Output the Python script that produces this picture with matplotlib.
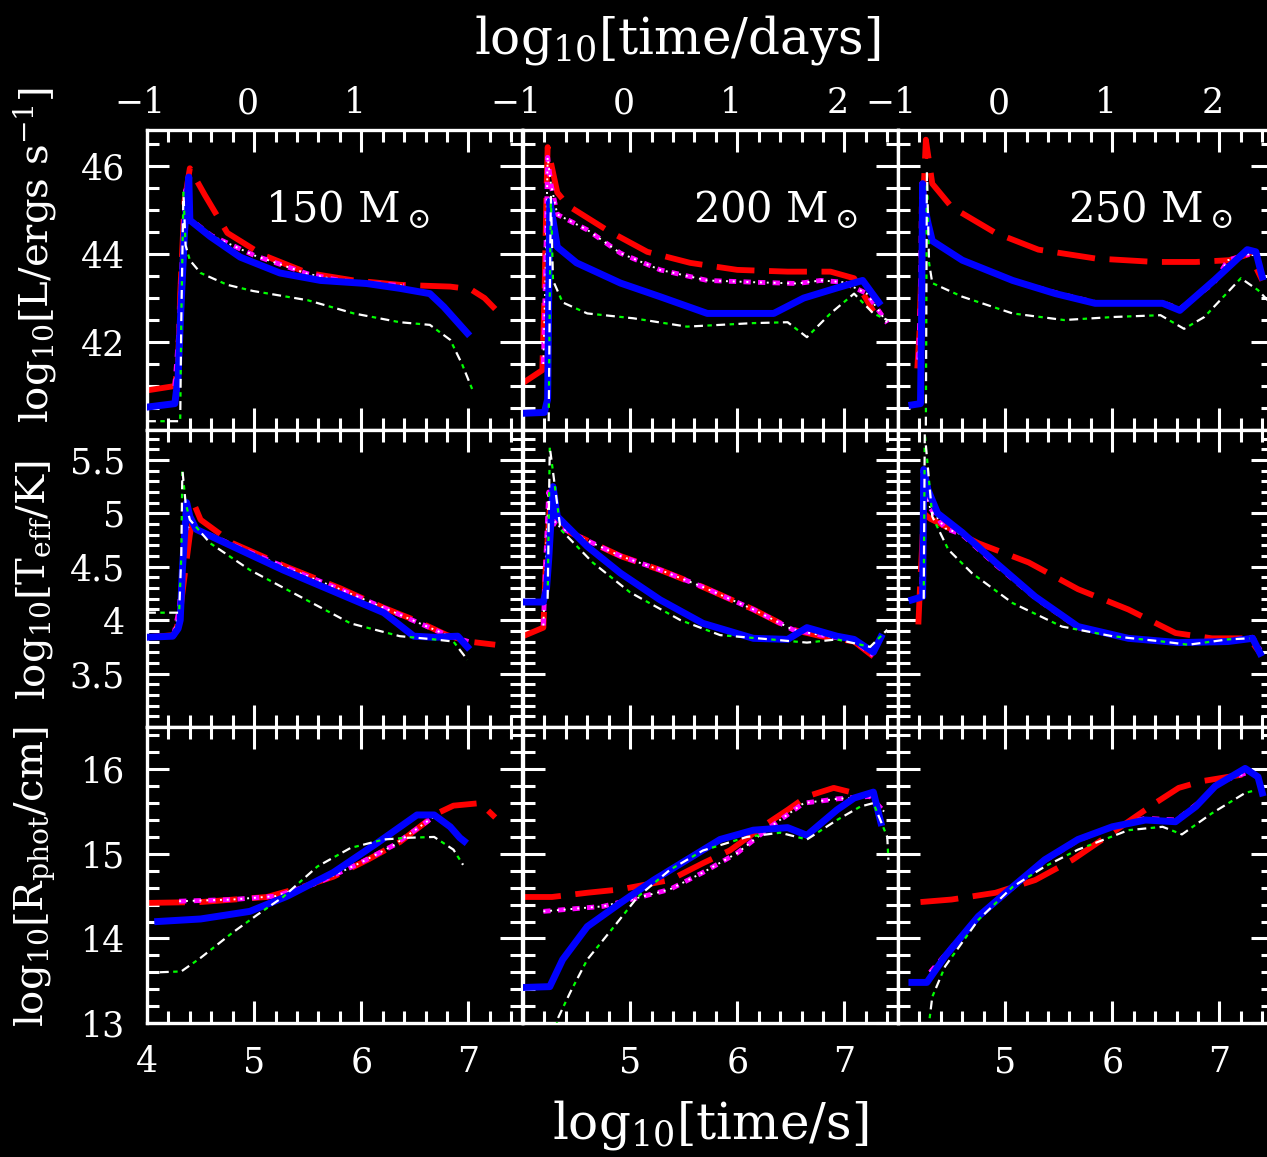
import matplotlib.pyplot as plt
import numpy as np
from matplotlib.ticker import MultipleLocator, FixedLocator

plt.rcParams['font.family'] = 'DejaVu Serif'
plt.rcParams['mathtext.fontset'] = 'dejavuserif'

W, H = 1267, 1157
LOG_DAY = np.log10(86400.)

masses = ['150', '200', '250']

# ---- 150 Msun -------------------------------------------------------------
# luminosity
t150L_red = [4.0, 4.26, 4.29, 4.31, 4.35, 4.40, 4.54, 4.75, 5.08, 5.50, 5.93, 6.36, 6.83, 7.02, 7.15, 7.25]
y150L_red = [40.9, 41.0, 41.5, 43.1, 45.2, 45.95, 45.34, 44.48, 43.98, 43.57, 43.4, 43.3, 43.26, 43.2, 43.0, 42.75]
t150L_blue = [4.0, 4.26, 4.29, 4.31, 4.35, 4.39, 4.40, 4.59, 4.87, 5.24, 5.62, 6.05, 6.36, 6.64, 6.77, 6.99]
y150L_blue = [40.52, 40.6, 41.2, 42.4, 44.5, 45.75, 44.77, 44.4, 43.93, 43.57, 43.4, 43.33, 43.22, 43.1, 42.8, 42.2]
t150L_mag = [4.26, 4.30, 4.33, 4.36, 4.40, 4.6, 5.0, 5.5, 5.8, 6.1, 6.4]
y150L_mag = [41.0, 42.3, 44.0, 45.45, 44.8, 44.42, 43.97, 43.55, 43.4, 43.33, 43.28]
t150L_dash = [4.0, 4.31, 4.32, 4.34, 4.36, 4.40, 4.50, 4.75, 4.99, 5.50, 5.93, 6.36, 6.64, 6.83, 6.94, 7.04]
y150L_dash = [40.2, 40.2, 42.5, 45.4, 44.2, 43.86, 43.57, 43.3, 43.16, 42.95, 42.65, 42.45, 42.39, 42.05, 41.5, 40.9]
# effective temperature
t150T_red = [4.0, 4.25, 4.30, 4.33, 4.40, 4.45, 4.50, 4.8, 5.3, 5.8, 6.2, 6.5, 6.8, 7.0, 7.25]
y150T_red = [3.84, 3.86, 4.0, 4.25, 4.8, 5.06, 4.94, 4.72, 4.5, 4.3, 4.12, 4.0, 3.86, 3.8, 3.77]
t150T_blue = [4.0, 4.24, 4.29, 4.31, 4.33, 4.37, 4.40, 4.46, 4.80, 5.27, 5.74, 6.21, 6.49, 6.68, 6.9, 6.99]
y150T_blue = [3.84, 3.85, 3.92, 4.0, 4.47, 5.1, 4.97, 4.85, 4.69, 4.47, 4.27, 4.07, 3.85, 3.84, 3.85, 3.75]
t150T_mag = [4.25, 4.30, 4.33, 4.36, 4.40, 4.9, 5.4, 5.8, 6.2, 6.5, 6.8, 7.0]
y150T_mag = [3.86, 4.1, 4.5, 4.85, 4.88, 4.66, 4.45, 4.29, 4.12, 3.99, 3.86, 3.8]
t150T_dash = [4.0, 4.30, 4.32, 4.33, 4.36, 4.40, 4.59, 4.96, 5.43, 5.90, 6.36, 6.68, 6.86, 6.99]
y150T_dash = [4.07, 4.07, 4.6, 5.41, 5.1, 4.94, 4.72, 4.47, 4.22, 3.97, 3.85, 3.82, 3.8, 3.63]
# photospheric radius
t150R_red = [4.0, 4.5, 5.12, 5.43, 5.74, 6.06, 6.36, 6.71, 6.86, 7.11, 7.25]
y150R_red = [14.42, 14.43, 14.49, 14.6, 14.73, 14.93, 15.14, 15.48, 15.57, 15.6, 15.43]
t150R_blue = [4.10, 4.50, 4.96, 5.31, 5.74, 6.15, 6.52, 6.68, 6.83, 6.92, 6.96]
y150R_blue = [14.2, 14.23, 14.32, 14.5, 14.78, 15.13, 15.46, 15.46, 15.32, 15.19, 15.15]
t150R_mag = [4.3, 4.8, 5.2, 5.4, 5.6, 5.8, 6.0, 6.3, 6.7]
y150R_mag = [14.44, 14.46, 14.5, 14.58, 14.66, 14.78, 14.9, 15.1, 15.46]
t150R_dash = [4.12, 4.32, 4.50, 4.80, 5.03, 5.27, 5.59, 5.90, 6.21, 6.43, 6.68, 6.86, 6.95]
y150R_dash = [13.6, 13.61, 13.77, 14.07, 14.28, 14.49, 14.85, 15.07, 15.17, 15.19, 15.2, 15.05, 14.87]

# ---- 200 Msun -------------------------------------------------------------
t200L_red = [4.0, 4.18, 4.20, 4.22, 4.23, 4.32, 4.42, 4.78, 5.16, 5.56, 6.0, 6.47, 6.87, 7.09, 7.27]
y200L_red = [41.07, 41.36, 43.0, 45.5, 46.43, 45.4, 45.1, 44.55, 44.05, 43.8, 43.64, 43.6, 43.6, 43.45, 42.7]
t200L_blue = [4.0, 4.2, 4.23, 4.24, 4.25, 4.28, 4.32, 4.50, 4.91, 5.28, 5.72, 6.34, 6.62, 6.93, 7.17, 7.32]
y200L_blue = [40.38, 40.4, 40.7, 43.0, 45.2, 44.77, 44.16, 43.8, 43.34, 43.03, 42.65, 42.65, 43.0, 43.23, 43.4, 42.9]
t200L_mag = [4.19, 4.21, 4.23, 4.26, 4.32, 4.6, 4.91, 5.28, 5.72, 6.15, 6.56, 6.78, 6.99, 7.21, 7.4]
y200L_mag = [41.5, 43.5, 46.2, 45.6, 44.9, 44.55, 44.02, 43.64, 43.4, 43.36, 43.33, 43.4, 43.36, 43.1, 42.43]
t200L_dash = [4.24, 4.25, 4.26, 4.28, 4.37, 4.6, 5.03, 5.53, 6.15, 6.47, 6.65, 6.87, 7.09, 7.27, 7.4]
y200L_dash = [40.2, 43.0, 45.3, 43.4, 42.9, 42.65, 42.54, 42.35, 42.43, 42.45, 42.11, 42.65, 43.1, 42.65, 42.5]
t200T_red = [4.0, 4.19, 4.21, 4.25, 4.44, 4.91, 5.28, 5.68, 6.15, 6.52, 6.78, 7.09, 7.27]
y200T_red = [3.85, 3.93, 4.45, 5.06, 4.82, 4.6, 4.47, 4.31, 4.10, 3.91, 3.85, 3.80, 3.66]
t200T_blue = [4.0, 4.19, 4.22, 4.24, 4.28, 4.32, 4.6, 4.91, 5.28, 5.68, 6.15, 6.47, 6.65, 6.93, 7.09, 7.27, 7.34]
y200T_blue = [4.17, 4.17, 4.3, 4.57, 5.25, 4.97, 4.69, 4.44, 4.19, 3.97, 3.83, 3.82, 3.93, 3.85, 3.82, 3.70, 3.84]
t200T_mag = [4.19, 4.21, 4.24, 4.30, 4.44, 4.91, 5.28, 5.68, 6.15, 6.52, 6.78, 7.09, 7.27]
y200T_mag = [3.95, 4.5, 5.2, 4.9, 4.82, 4.6, 4.47, 4.31, 4.10, 3.91, 3.86, 3.81, 3.67]
t200T_dash = [4.23, 4.25, 4.35, 4.65, 5.0, 5.47, 5.84, 6.31, 6.65, 6.93, 7.24, 7.40]
y200T_dash = [4.2, 5.62, 4.85, 4.54, 4.26, 4.0, 3.86, 3.82, 3.79, 3.82, 3.75, 3.91]
t200R_red = [4.0, 4.27, 4.6, 4.91, 5.37, 5.68, 5.93, 6.28, 6.47, 6.65, 6.90, 7.09]
y200R_red = [14.49, 14.49, 14.54, 14.58, 14.69, 14.89, 15.04, 15.36, 15.52, 15.68, 15.78, 15.72]
t200R_blue = [4.0, 4.25, 4.37, 4.6, 4.91, 5.22, 5.53, 5.84, 6.15, 6.47, 6.65, 6.93, 7.09, 7.27, 7.34]
y200R_blue = [13.42, 13.43, 13.75, 14.14, 14.42, 14.69, 14.93, 15.17, 15.28, 15.31, 15.22, 15.52, 15.66, 15.73, 15.37]
t200R_mag = [4.19, 4.75, 5.07, 5.37, 5.68, 6.0, 6.31, 6.62, 6.93, 7.24, 7.37]
y200R_mag = [14.32, 14.38, 14.48, 14.58, 14.78, 15.01, 15.32, 15.6, 15.65, 15.68, 15.5]
t200R_dash = [4.30, 4.32, 4.44, 4.6, 4.85, 5.07, 5.37, 5.68, 6.09, 6.40, 6.65, 6.93, 7.15, 7.27, 7.40, 7.41]
y200R_dash = [12.8, 13.04, 13.36, 13.75, 14.14, 14.49, 14.81, 15.04, 15.2, 15.25, 15.17, 15.4, 15.56, 15.6, 15.2, 14.93]

# ---- 250 Msun -------------------------------------------------------------
t250L_red = [4.18, 4.20, 4.24, 4.26, 4.32, 4.50, 4.91, 5.31, 5.84, 6.40, 6.78, 7.09, 7.28, 7.40]
y250L_red = [41.4, 42.2, 45.5, 46.6, 45.6, 45.07, 44.48, 44.1, 43.9, 43.82, 43.82, 43.86, 44.0, 43.4]
t250L_blue = [4.13, 4.21, 4.22, 4.23, 4.24, 4.28, 4.32, 4.60, 5.07, 5.47, 5.84, 6.47, 6.63, 6.95, 7.26, 7.34, 7.40]
y250L_blue = [40.57, 40.6, 42.5, 45.6, 45.2, 44.7, 44.3, 43.86, 43.4, 43.1, 42.88, 42.88, 42.72, 43.4, 44.1, 44.05, 43.48]
t250L_mag = [4.19, 4.21, 4.22, 4.26, 4.32, 4.6, 5.07, 5.5, 5.84, 6.47, 6.63, 6.95, 7.08, 7.28]
y250L_mag = [41.6, 43.0, 45.6, 44.8, 44.3, 43.86, 43.4, 43.1, 42.9, 42.9, 42.75, 43.35, 43.86, 44.0]
t250L_dash = [4.26, 4.265, 4.27, 4.29, 4.32, 4.60, 5.07, 5.55, 6.02, 6.45, 6.67, 6.86, 7.20, 7.36, 7.45]
y250L_dash = [40.1, 43.0, 45.9, 43.8, 43.34, 43.03, 42.65, 42.5, 42.57, 42.61, 42.3, 42.57, 43.45, 43.18, 42.95]
t250T_red = [4.19, 4.20, 4.24, 4.30, 4.44, 4.75, 5.22, 5.68, 6.15, 6.59, 6.93, 7.28, 7.38]
y250T_red = [3.96, 4.19, 5.0, 4.95, 4.88, 4.72, 4.54, 4.29, 4.1, 3.88, 3.83, 3.83, 3.69]
t250T_blue = [4.13, 4.23, 4.235, 4.24, 4.28, 4.37, 4.6, 4.91, 5.28, 5.68, 6.15, 6.62, 7.08, 7.31, 7.38]
y250T_blue = [4.19, 4.22, 4.8, 5.41, 5.22, 5.0, 4.82, 4.54, 4.22, 3.94, 3.83, 3.79, 3.80, 3.83, 3.69]
t250T_mag = [4.22, 4.24, 4.30, 4.44, 4.6, 4.91, 5.28, 5.68, 6.15, 6.62, 7.08, 7.31, 7.38]
y250T_mag = [4.2, 5.3, 5.05, 4.86, 4.8, 4.52, 4.21, 3.93, 3.83, 3.79, 3.81, 3.84, 3.72]
t250T_dash = [4.24, 4.25, 4.32, 4.47, 4.69, 5.07, 5.53, 6.0, 6.47, 6.71, 7.08, 7.28]
y250T_dash = [4.2, 5.75, 4.97, 4.66, 4.44, 4.16, 3.94, 3.85, 3.80, 3.77, 3.82, 3.83]
t250R_red = [4.21, 4.50, 4.91, 5.28, 5.63, 6.0, 6.40, 6.62, 6.84, 7.08, 7.28]
y250R_red = [14.43, 14.46, 14.54, 14.69, 14.93, 15.25, 15.6, 15.78, 15.86, 15.91, 15.95]
t250R_blue = [4.13, 4.27, 4.44, 4.75, 5.07, 5.37, 5.68, 6.0, 6.31, 6.59, 6.78, 6.96, 7.24, 7.36, 7.40]
y250R_blue = [13.48, 13.48, 13.79, 14.26, 14.61, 14.93, 15.17, 15.32, 15.4, 15.38, 15.56, 15.8, 16.01, 15.91, 15.72]
t250R_mag = [4.3, 4.75, 5.07, 5.37, 5.68, 6.0, 6.31, 6.6, 6.8, 7.0, 7.28]
y250R_mag = [13.6, 14.26, 14.6, 14.92, 15.16, 15.32, 15.42, 15.4, 15.6, 15.85, 15.97]
t250R_dash = [4.28, 4.32, 4.44, 4.75, 5.07, 5.37, 5.68, 6.15, 6.47, 6.65, 6.93, 7.24, 7.33]
y250R_dash = [12.9, 13.31, 13.67, 14.22, 14.61, 14.85, 15.05, 15.28, 15.32, 15.23, 15.48, 15.72, 15.75]

# axis ranges / ticks
ylims = [(40.0, 46.82), (3.0, 5.78), (13.0, 16.5)]
ymajor = [[40, 42, 44, 46], [3.0, 3.5, 4.0, 4.5, 5.0, 5.5], [13, 14, 15, 16]]
ylabels_tick = [['', '42', '44', '46'], ['', '3.5', '4', '4.5', '5', '5.5'], ['13', '14', '15', '16']]
yminor = [0.5, 0.1, 0.2]
day_ticks = [[-1, 0, 1], [-1, 0, 1, 2], [-1, 0, 1, 2]]
ylab = [r'log$_{10}$[L/ergs s$^{-1}$]', r'log$_{10}$[T$_{\rm eff}$/K]', r'log$_{10}$[R$_{\rm phot}$/cm]']

panels = {}
for m in masses:
    for q in 'LTR':
        g = globals()
        panels[(m, q)] = {k: (g['t%s%s_%s' % (m, q, k)], g['y%s%s_%s' % (m, q, k)])
                          for k in ('red', 'blue', 'mag', 'dash')}

fig = plt.figure(figsize=(W / 100, H / 100), dpi=100, facecolor='black')
col_left = [147, 523, 898]
col_w = 375
row_top = [130, 430, 727]
row_bot = [430, 727, 1023]

for r, q in enumerate('LTR'):
    for c, m in enumerate(masses):
        ax = fig.add_axes([col_left[c] / W, 1 - row_bot[r] / H, col_w / W, (row_bot[r] - row_top[r]) / H])
        ax.set_facecolor('black')
        d = panels[(m, q)]
        ax.plot(*d['red'], color='red', lw=4.2, ls=(0, (6.5, 2.5)), zorder=2)
        ax.plot(*d['mag'], color='magenta', lw=3.5, ls=(0, (1.5, 1.5)), zorder=3)
        ax.plot(*d['mag'], color='white', lw=1.4, ls=(0, (1, 2.5)), zorder=3.5)
        ax.plot(*d['blue'], color='blue', lw=5, zorder=4)
        ax.plot(*d['dash'], color='#00ff00', lw=1.6, ls=(4, (2, 8)), zorder=5)
        ax.plot(*d['dash'], color='white', lw=1.6, ls=(0, (4, 6)), zorder=6)

        ax.set_xlim(4.0, 7.5)
        ax.set_ylim(*ylims[r])
        ax.xaxis.set_major_locator(FixedLocator([4, 5, 6, 7]))
        ax.xaxis.set_minor_locator(MultipleLocator(0.2))
        ax.yaxis.set_major_locator(FixedLocator(ymajor[r]))
        ax.yaxis.set_minor_locator(MultipleLocator(yminor[r]))
        if c == 0:
            ax.set_yticklabels(ylabels_tick[r])
        if r == 2:
            ax.set_xticklabels(['4', '5', '6', '7'] if c == 0 else ['', '5', '6', '7'])
        ax.tick_params(which='major', length=16)
        ax.tick_params(which='minor', length=8.5)
        ax.tick_params(which='both', direction='in', top=True, right=True, colors='white',
                       width=2.2, labelsize=25, pad=16,
                       labelleft=(c == 0), labelbottom=(r == 2))
        for s in ax.spines.values():
            s.set_color('white')
            s.set_linewidth(2.4)

        if r == 0:
            for n in day_ticks[c]:
                ax.text(LOG_DAY + n, 1.09, '%d' % n if n >= 0 else '\u2212%d' % -n,
                        transform=ax.get_xaxis_transform(), color='white', fontsize=25,
                        ha='center', va='center', clip_on=False)
            ax.text(0.315 if c == 0 else 0.453, 0.693, m + r' M$_\odot$', transform=ax.transAxes,
                    color='white', fontsize=30, ha='left', va='baseline')

fig.text(677 / W, 1 - 40 / H, r'log$_{10}$[time/days]', color='white', fontsize=36, ha='center', va='center')
fig.text(710 / W, 1 - 1125 / H, r'log$_{10}$[time/s]', color='white', fontsize=36, ha='center', va='center')
for r, ycen in enumerate([255, 580, 877]):
    fig.text(35 / W, 1 - ycen / H, ylab[r], color='white', fontsize=29, rotation=90,
             ha='center', va='center')

fig.savefig('out.png', dpi=100, facecolor='black')
